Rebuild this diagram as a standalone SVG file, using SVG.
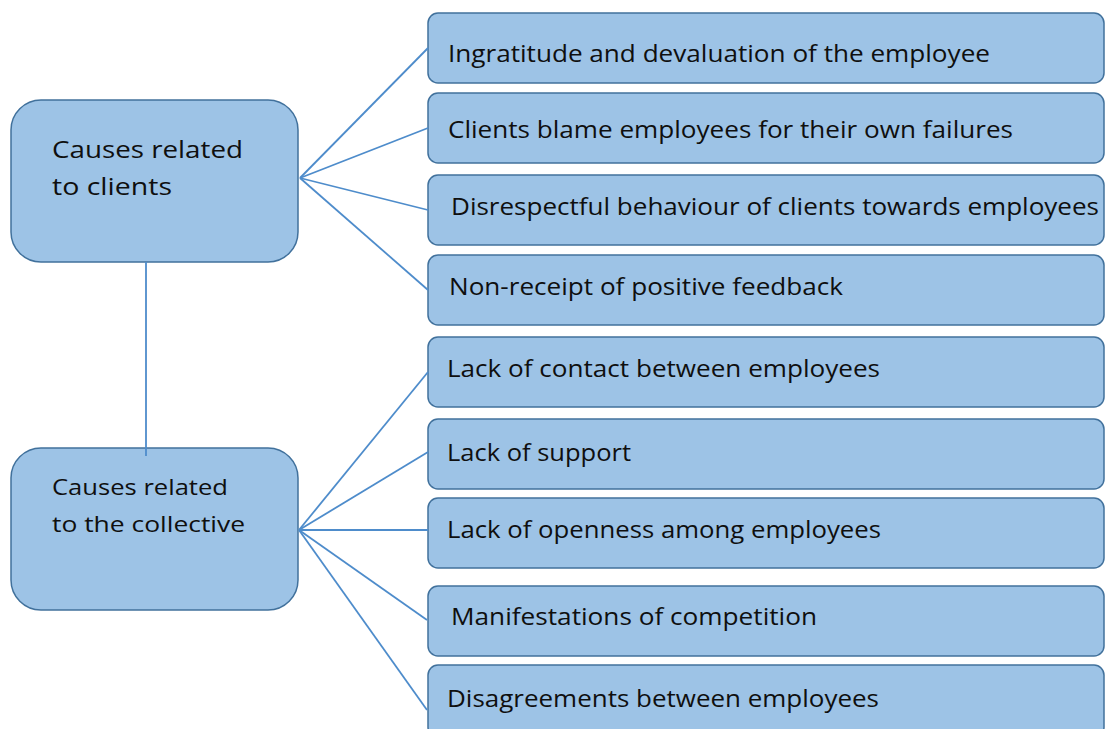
<svg xmlns="http://www.w3.org/2000/svg" width="1106" height="729" viewBox="0 0 1106 729">
  <style>
    .box { fill: #9DC3E6; stroke: #41719C; stroke-width: 1.5; }
    .lbl { font-family: "Open Sans", "Liberation Sans", sans-serif; fill: #0F0F0F; }
    .item { font-size: 23px; }
    .main { font-size: 24px; }
    .main2 { font-size: 22px; }
    .conn { stroke: #4E8CCB; stroke-width: 1.8; fill: none; }
  </style>
  <rect width="1106" height="729" fill="#FFFFFF"/>

  <!-- category nodes -->
  <g id="clients">
    <rect class="box" x="11" y="100" width="287" height="162" rx="30"/>
    <text class="lbl main" x="52" y="158" textLength="191" lengthAdjust="spacingAndGlyphs">Causes related</text>
    <text class="lbl main" x="52" y="195" textLength="120" lengthAdjust="spacingAndGlyphs">to clients</text>
  </g>
  <g id="collective">
    <rect class="box" x="11" y="448" width="287" height="162" rx="30"/>
    <text class="lbl main2" x="52" y="495" textLength="176" lengthAdjust="spacingAndGlyphs">Causes related</text>
    <text class="lbl main2" x="52" y="532" textLength="193" lengthAdjust="spacingAndGlyphs">to the collective</text>
  </g>

  <!-- cause nodes -->
  <g id="c1">
    <rect class="box" x="428" y="13" width="676" height="70" rx="10"/>
    <text class="lbl item" x="448" y="62" textLength="542" lengthAdjust="spacingAndGlyphs">Ingratitude and devaluation of the employee</text>
  </g>
  <g id="c2">
    <rect class="box" x="428" y="93" width="676" height="70" rx="10"/>
    <text class="lbl item" x="448" y="138" textLength="565" lengthAdjust="spacingAndGlyphs">Clients blame employees for their own failures</text>
  </g>
  <g id="c3">
    <rect class="box" x="428" y="175" width="676" height="70" rx="10"/>
    <text class="lbl item" x="451" y="215" textLength="648" lengthAdjust="spacingAndGlyphs">Disrespectful behaviour of clients towards employees</text>
  </g>
  <g id="c4">
    <rect class="box" x="428" y="255" width="676" height="70" rx="10"/>
    <text class="lbl item" x="449" y="295" textLength="394" lengthAdjust="spacingAndGlyphs">Non-receipt of positive feedback</text>
  </g>
  <g id="k1">
    <rect class="box" x="428" y="337" width="676" height="70" rx="10"/>
    <text class="lbl item" x="447" y="377" textLength="433" lengthAdjust="spacingAndGlyphs">Lack of contact between employees</text>
  </g>
  <g id="k2">
    <rect class="box" x="428" y="419" width="676" height="70" rx="10"/>
    <text class="lbl item" x="447" y="461" textLength="184" lengthAdjust="spacingAndGlyphs">Lack of support</text>
  </g>
  <g id="k3">
    <rect class="box" x="428" y="498" width="676" height="70" rx="10"/>
    <text class="lbl item" x="447" y="538" textLength="434" lengthAdjust="spacingAndGlyphs">Lack of openness among employees</text>
  </g>
  <g id="k4">
    <rect class="box" x="428" y="586" width="676" height="70" rx="10"/>
    <text class="lbl item" x="451" y="625" textLength="366" lengthAdjust="spacingAndGlyphs">Manifestations of competition</text>
  </g>
  <g id="k5">
    <rect class="box" x="428" y="665" width="676" height="72" rx="10"/>
    <text class="lbl item" x="447" y="707" textLength="432" lengthAdjust="spacingAndGlyphs">Disagreements between employees</text>
  </g>

  <!-- connectors -->
  <g id="connectors">
    <line class="conn" x1="146" y1="262" x2="146" y2="456"/>
    <line class="conn" x1="300" y1="178" x2="428" y2="48"/>
    <line class="conn" x1="300" y1="178" x2="428" y2="128"/>
    <line class="conn" x1="300" y1="178" x2="428" y2="210"/>
    <line class="conn" x1="300" y1="178" x2="428" y2="290"/>
    <line class="conn" x1="299" y1="530" x2="428" y2="372"/>
    <line class="conn" x1="299" y1="530" x2="428" y2="452"/>
    <line class="conn" x1="299" y1="530" x2="428" y2="530"/>
    <line class="conn" x1="299" y1="530" x2="427" y2="620"/>
    <line class="conn" x1="299" y1="530" x2="427" y2="710"/>
  </g>
</svg>
